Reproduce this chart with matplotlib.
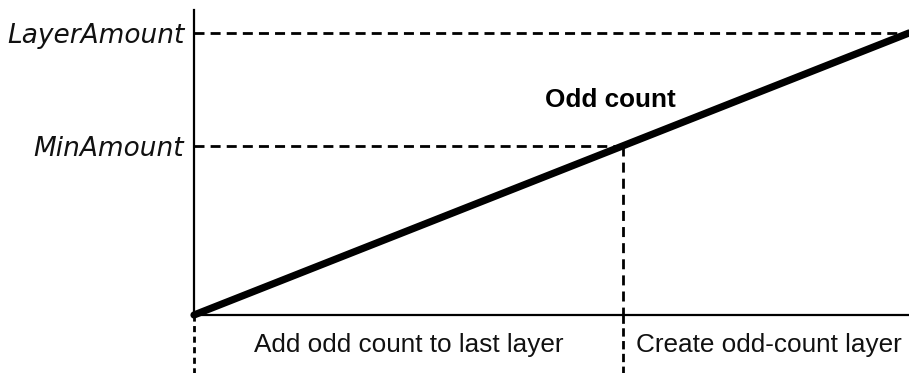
import matplotlib.pyplot as plt

# amounts on the vertical axis
min_amount = 6.0
layer_amount = 10.0
y_labels = ["MinAmount", "LayerAmount"]

# odd count grows linearly over the whole range
count_x = [0.0, 1.0]
count_y = [0.0, layer_amount]
split_x = min_amount / layer_amount

region_labels = ["Add odd count to last layer", "Create odd-count layer"]
region_centers = [0.300, 0.804]

fig = plt.figure(figsize=(9.09, 3.73), dpi=100)
ax = fig.add_axes([194 / 909, 58 / 373, 715 / 909, 305 / 373])
ax.set_xlim(0, 1)
ax.set_ylim(0, layer_amount * 305 / 282)

for s in ["top", "right"]:
    ax.spines[s].set_visible(False)
for s in ["left", "bottom"]:
    ax.spines[s].set_linewidth(1.6)
    ax.spines[s].set_color("black")

ax.set_xticks([])
ax.set_yticks([min_amount, layer_amount])
ax.set_yticklabels(y_labels, fontstyle="italic", fontsize=19,
                   family="DejaVu Sans", color="#111111")
ax.tick_params(axis="y", length=0, pad=7)

dash = dict(color="black", lw=2.0, dashes=(3.6, 2.2))
ax.plot([0, 1], [layer_amount, layer_amount], **dash)
ax.plot([0, split_x], [min_amount, min_amount], **dash)
ax.plot([split_x, split_x], [min_amount, 0], **dash)

# dashed separators below the x axis
ax.plot([split_x, split_x], [0, -2.1], clip_on=False, color="black",
        lw=2.0, dashes=(3.0, 1.6))
ax.plot([0, 0], [0, -2.1], clip_on=False, color="black",
        lw=2.0, dashes=(2.2, 1.6))

ax.plot(count_x, count_y, color="black", lw=5.2, solid_capstyle="round",
        clip_on=False)

ax.text(0.582, 7.62, "Odd count", ha="center", va="center",
        fontsize=18.8, fontweight="bold", family="Liberation Sans")

for cx, lab in zip(region_centers, region_labels):
    ax.text(cx, -1.05, lab, ha="center", va="center", fontsize=18.8,
            family="Liberation Sans", color="#111111")

fig.savefig("out.png", dpi=100)
